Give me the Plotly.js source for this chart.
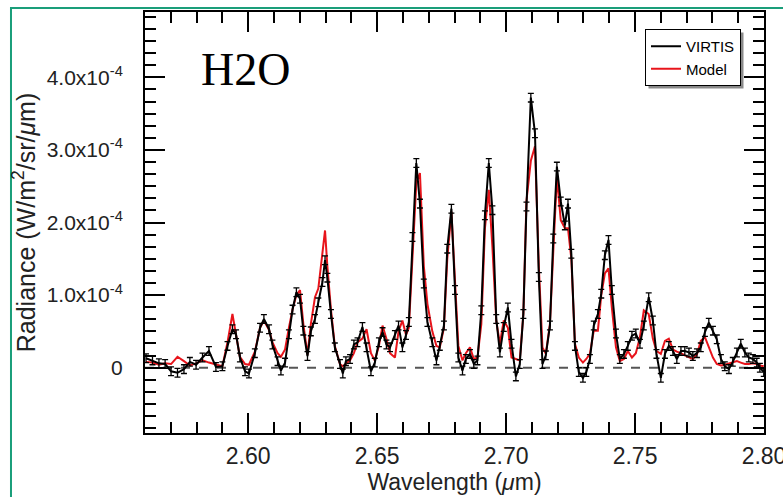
<!DOCTYPE html>
<html><head><meta charset="utf-8">
<script src="https://cdn.plot.ly/plotly-3.0.1.min.js"></script>
<style>html,body{margin:0;padding:0;background:#fff}#chart{width:783px;height:497px}</style>
</head><body><div id="chart"></div>
<script>
// Wavelength grid (micron)
const wavelength = [
2.5604,2.5629,2.5654,2.5678,2.5701,2.5726,2.5751,2.5774,2.5798,2.5823,
2.5848,2.5875,2.5900,2.5920,2.5939,2.5953,2.5968,2.5988,2.6003,2.6026,
2.6046,2.6061,2.6081,2.6094,2.6114,2.6127,2.6143,2.6158,2.6172,2.6187,
2.6201,2.6214,2.6230,2.6243,2.6259,2.6272,2.6288,2.6298,2.6307,2.6321,
2.6336,2.6356,2.6367,2.6379,2.6395,2.6410,2.6424,2.6443,2.6459,2.6476,
2.6491,2.6507,2.6521,2.6536,2.6550,2.6569,2.6583,2.6598,2.6612,2.6623,
2.6637,2.6652,2.6666,2.6681,2.6695,2.6714,2.6730,2.6743,2.6759,2.6772,
2.6788,2.6802,2.6815,2.6831,2.6844,2.6860,2.6875,2.6889,2.6904,2.6918,
2.6933,2.6947,2.6962,2.6976,2.6991,2.7007,2.7021,2.7038,2.7053,2.7067,
2.7079,2.7096,2.7112,2.7127,2.7141,2.7154,2.7170,2.7183,2.7197,2.7212,
2.7228,2.7240,2.7253,2.7267,2.7282,2.7298,2.7311,2.7325,2.7340,2.7356,
2.7369,2.7383,2.7397,2.7410,2.7426,2.7441,2.7457,2.7472,2.7488,2.7503,
2.7519,2.7534,2.7553,2.7569,2.7583,2.7600,2.7616,2.7631,2.7647,2.7662,
2.7678,2.7693,2.7709,2.7724,2.7740,2.7755,2.7771,2.7786,2.7802,2.7817,
2.7833,2.7848,2.7864,2.7879,2.7895,2.7910,2.7926,2.7941,2.7957,2.7972,
2.7984,2.7999];

// VIRTIS radiance, in units of 1e-4 W/m2/sr/micron
const virtisE4 = [
0.13,0.10,0.06,0.05,-0.05,-0.07,-0.02,0.08,0.04,0.14,
0.23,0.01,0.02,0.30,0.53,0.46,0.14,-0.05,-0.08,0.20,
0.55,0.67,0.53,0.32,0.09,-0.04,0.07,0.46,0.80,1.04,
0.95,0.51,0.16,0.50,0.67,0.90,1.18,1.48,1.24,0.74,
0.28,0.05,-0.08,0.09,0.12,0.32,0.35,0.56,0.28,-0.05,
0.07,0.35,0.49,0.32,0.28,0.45,0.58,0.28,0.45,0.63,
1.80,2.82,2.26,1.16,0.63,0.35,0.10,0.30,0.58,1.64,
2.19,1.07,0.14,-0.04,0.12,0.19,0.05,0.10,0.79,2.10,
2.82,2.17,0.67,0.21,0.56,0.83,0.33,-0.12,0.05,0.74,
2.22,3.72,3.23,1.25,0.05,0.17,0.58,1.78,2.77,2.29,
1.96,2.26,1.57,0.30,-0.06,-0.14,-0.06,0.12,0.58,0.74,
1.02,1.55,1.76,1.07,0.47,0.12,0.19,0.30,0.44,0.47,
0.33,0.58,0.97,0.65,0.19,-0.14,0.19,0.30,0.23,0.12,
0.23,0.23,0.21,0.16,0.20,0.28,0.49,0.62,0.51,0.39,
0.12,0.02,-0.02,0.08,0.21,0.33,0.21,0.14,0.12,0.07,
0.00,-0.06];

// Model radiance, in units of 1e-4 W/m2/sr/micron
const modelE4 = [
0.08,0.07,0.04,0.06,0.05,0.15,0.09,0.03,0.06,0.10,
0.07,0.04,0.02,0.35,0.74,0.45,0.15,0.05,0.04,0.22,
0.55,0.65,0.52,0.35,0.20,0.15,0.25,0.55,0.80,1.00,
1.07,0.60,0.18,0.60,0.97,1.09,1.60,1.89,1.40,0.80,
0.30,0.05,0.02,0.05,0.10,0.20,0.35,0.40,0.53,0.20,
0.10,0.30,0.58,0.40,0.20,0.14,0.50,0.65,0.45,0.55,
1.60,2.55,2.68,1.40,0.88,0.50,0.30,0.28,0.55,1.50,
2.15,1.20,0.30,0.10,0.20,0.28,0.12,0.14,0.60,1.92,
2.45,1.66,0.64,0.33,0.65,0.55,0.14,0.12,0.10,0.74,
2.30,2.85,3.05,1.39,0.28,0.19,0.60,1.60,2.63,2.03,
1.92,1.92,1.50,0.33,0.14,0.07,0.12,0.19,0.51,0.51,
1.00,1.30,1.37,0.83,0.28,0.09,0.12,0.23,0.14,0.20,
0.42,0.79,0.74,0.40,0.23,0.19,0.37,0.40,0.25,0.22,
0.20,0.17,0.14,0.12,0.18,0.37,0.42,0.28,0.14,0.05,
0.03,0.04,0.06,0.07,0.09,0.07,0.05,0.05,0.06,0.05,
0.03,0.02];

const errorE4 = 0.06;
const yTickValsE4 = [0, 1, 2, 3, 4];
const yTickText = ['0', '1.0x10<sup>-4</sup>', '2.0x10<sup>-4</sup>', '3.0x10<sup>-4</sup>', '4.0x10<sup>-4</sup>'];
const xTickVals = [2.60, 2.65, 2.70, 2.75, 2.80];
const xTickText = ['2.60', '2.65', '2.70', '2.75', '2.80'];
const seriesNames = ['VIRTIS', 'Model'];

const U = 1e-4;
const font = 'Liberation Sans, Arial, Helvetica, sans-serif';

const traces = [
  {
    x: wavelength, y: modelE4.map(v => v * U), type: 'scatter', mode: 'lines',
    name: seriesNames[1], legendrank: 2,
    line: {color: '#e8141b', width: 2}
  },
  {
    x: wavelength, y: virtisE4.map(v => v * U), type: 'scatter', mode: 'lines',
    name: seriesNames[0], legendrank: 1,
    line: {color: '#000000', width: 2},
    error_y: {type: 'constant', value: errorE4 * U, color: '#000', thickness: 1.3, width: 3}
  }
];

const axisCommon = {
  showline: true, linecolor: '#000', linewidth: 2, mirror: 'allticks',
  ticks: 'inside', tickcolor: '#000', tickwidth: 2, ticklen: 20,
  showgrid: false, zeroline: false, automargin: false
};

const px = v => (v - 145) / 619, py = v => (433 - v) / 421;

const layout = {
  width: 783, height: 497,
  margin: {l: 145, r: 19, t: 12, b: 64},
  paper_bgcolor: '#fff', plot_bgcolor: '#fff',
  showlegend: true,
  legend: {
    x: px(645), y: py(29), xanchor: 'left', yanchor: 'top',
    bgcolor: '#fff', bordercolor: '#000', borderwidth: 1,
    font: {family: font, size: 15, color: '#000'},
    tracegroupgap: 0
  },
  xaxis: Object.assign({}, axisCommon, {
    range: [2.56, 2.80],
    tickmode: 'array', tickvals: xTickVals, ticktext: xTickText,
    tickfont: {family: font, size: 23, color: '#222'},
    ticklabeloverflow: 'allow',
    minor: {dtick: 0.01, tick0: 2.56, ticks: 'inside', ticklen: 11, tickwidth: 2, tickcolor: '#000'},
    ticklabelstandoff: 1,
    title: {text: 'Wavelength (<i>μ</i>m)', font: {family: font, size: 23, color: '#222'}, standoff: 0}
  }),
  yaxis: Object.assign({}, axisCommon, {
    range: [-0.9e-4, 4.9e-4],
    tickmode: 'array', tickvals: yTickValsE4.map(v => v * U), ticktext: yTickText,
    tickfont: {family: font, size: 21, color: '#222'},
    ticklabeloverflow: 'allow',
    minor: {dtick: U / 6, tick0: 0, ticks: 'inside', ticklen: 11, tickwidth: 2, tickcolor: '#000'},
    ticklabelstandoff: 16,
    title: {text: 'Radiance (W/m<sup>2</sup>/sr/<i>μ</i>m)', font: {family: font, size: 25, color: '#222'}, standoff: 4}
  }),
  shapes: [
    {type: 'line', xref: 'paper', yref: 'y', x0: 0, x1: 1, y0: 0, y1: 0,
     line: {color: '#555', width: 2, dash: 'dash'}, layer: 'below'},
    {type: 'rect', xref: 'paper', yref: 'paper', x0: -0.2165, x1: 1.06, y0: -0.2, y1: 1.0095,
     line: {color: '#1a9e7a', width: 2}, fillcolor: 'rgba(0,0,0,0)'}
  ],
  annotations: [
    {text: 'H2O', xref: 'paper', yref: 'paper', x: px(245), y: py(69), xanchor: 'center', yanchor: 'middle',
     showarrow: false, font: {family: 'Liberation Serif, Times New Roman, serif', size: 46, color: '#000'}}
  ]
};

Plotly.newPlot('chart', traces, layout, {displayModeBar: false, staticPlot: true}).then(gd => {
  // drop shadow under the legend box, sized from the drawn legend
  const bg = gd.querySelector('.legend .bg');
  if (!bg) return;
  const r = bg.getBoundingClientRect();
  const c = gd.getBoundingClientRect();
  const L = r.left - c.left, T = r.top - c.top, W = r.width, H = r.height;
  Plotly.relayout(gd, {
    'shapes[2]': {type: 'rect', xref: 'paper', yref: 'paper',
      x0: px(L + 3), x1: px(L + W + 3), y0: py(T + H + 3), y1: py(T + 3),
      line: {width: 0}, fillcolor: '#8a8a8a', layer: 'above'}
  });
});
</script>
</body></html>
